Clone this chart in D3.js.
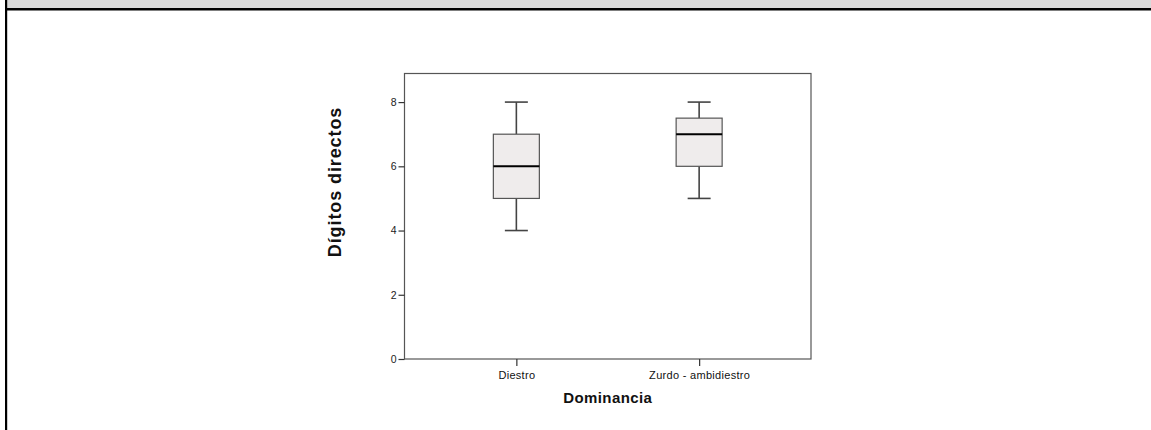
<!DOCTYPE html>
<html>
<head>
<meta charset="utf-8">
<script src="https://cdn.jsdelivr.net/npm/d3@7"></script>
<style>
	body { margin: 0; background: #fff; }
	svg { display: block; }
</style>
</head>
<body>
<div id="chart"></div>
<script>
// box plot values
var categories = ["Diestro", "Zurdo - ambidiestro"];
var minValues = [4, 5];
var q1Values = [5, 6];
var medianValues = [6, 7];
var q3Values = [7, 7.5];
var maxValues = [8, 8];
var yTicks = [0, 2, 4, 6, 8];

var width = 1151, height = 430;
var svg = d3.select("#chart").append("svg")
	.attr("width", width)
	.attr("height", height);

// page frame: grey strip on top, black rules
svg.append("rect").attr("x", 7).attr("y", 0).attr("width", width - 7).attr("height", 8).attr("fill", "#d9d9d9");
svg.append("rect").attr("x", 5).attr("y", 8).attr("width", width - 5).attr("height", 2.5).attr("fill", "#000");
svg.append("rect").attr("x", 5).attr("y", 0).attr("width", 2.2).attr("height", height).attr("fill", "#000");

var plot = { left: 404.5, right: 811, top: 73.5, bottom: 359 };

var y = d3.scaleLinear()
	.domain([0, 8.89])
	.range([plot.bottom, plot.top]);

var x = d3.scalePoint()
	.domain(categories)
	.range([plot.left, plot.right])
	.padding(0.612);

// plot frame
svg.append("rect")
	.attr("x", plot.left)
	.attr("y", plot.top)
	.attr("width", plot.right - plot.left)
	.attr("height", plot.bottom - plot.top)
	.attr("fill", "none")
	.attr("stroke", "#555")
	.attr("stroke-width", 1.2);

// y axis
var yAxis = svg.append("g")
	.attr("transform", "translate(" + plot.left + ",0)")
	.call(d3.axisLeft(y).tickValues(yTicks).tickSize(6).tickPadding(2).tickFormat(d3.format("d")));
yAxis.select(".domain").remove();
yAxis.selectAll("line").attr("stroke", "#333").attr("stroke-width", 1.2);
yAxis.selectAll("text")
	.attr("fill", "#222")
	.style("font-family", "Liberation Sans, Arial, sans-serif")
	.style("font-size", "10.5px");

// x axis
var xAxis = svg.append("g")
	.attr("transform", "translate(0," + plot.bottom + ")")
	.call(d3.axisBottom(x).tickSize(7).tickPadding(5));
xAxis.select(".domain").remove();
xAxis.selectAll("line").attr("stroke", "#333").attr("stroke-width", 1.2);
xAxis.selectAll("text")
	.attr("fill", "#111")
	.style("font-family", "Liberation Sans, Arial, sans-serif")
	.style("font-size", "11px")
	.style("letter-spacing", "0.3px");

// axis titles
svg.append("text")
	.text("Dominancia")
	.attr("x", x.range()[0] + (x.range()[1] - x.range()[0]) / 2)
	.attr("y", 403)
	.attr("text-anchor", "middle")
	.attr("fill", "#111")
	.style("font-family", "Liberation Sans, Arial, sans-serif")
	.style("font-weight", "bold")
	.style("font-size", "15px")
	.style("letter-spacing", "0.4px");

svg.append("text")
	.text("Dígitos directos")
	.attr("transform", "translate(341,182) rotate(-90)")
	.attr("text-anchor", "middle")
	.attr("fill", "#111")
	.style("font-family", "Liberation Sans, Arial, sans-serif")
	.style("font-weight", "bold")
	.style("font-size", "18px")
	.style("letter-spacing", "0.9px");

// boxes
var boxW = 46, capW = 23;
var rows = categories.map(function(c, i) {
	return { cat: c, min: minValues[i], q1: q1Values[i], med: medianValues[i], q3: q3Values[i], max: maxValues[i] };
});

var boxes = svg.selectAll(".box").data(rows).enter().append("g").attr("class", "box");

boxes.append("line")
	.attr("x1", function(d) { return x(d.cat); })
	.attr("x2", function(d) { return x(d.cat); })
	.attr("y1", function(d) { return y(d.max); })
	.attr("y2", function(d) { return y(d.q3); })
	.attr("stroke", "#444").attr("stroke-width", 1.6);
boxes.append("line")
	.attr("x1", function(d) { return x(d.cat); })
	.attr("x2", function(d) { return x(d.cat); })
	.attr("y1", function(d) { return y(d.q1); })
	.attr("y2", function(d) { return y(d.min); })
	.attr("stroke", "#444").attr("stroke-width", 1.6);
boxes.append("line")
	.attr("x1", function(d) { return x(d.cat) - capW / 2; })
	.attr("x2", function(d) { return x(d.cat) + capW / 2; })
	.attr("y1", function(d) { return y(d.max); })
	.attr("y2", function(d) { return y(d.max); })
	.attr("stroke", "#444").attr("stroke-width", 1.6);
boxes.append("line")
	.attr("x1", function(d) { return x(d.cat) - capW / 2; })
	.attr("x2", function(d) { return x(d.cat) + capW / 2; })
	.attr("y1", function(d) { return y(d.min); })
	.attr("y2", function(d) { return y(d.min); })
	.attr("stroke", "#444").attr("stroke-width", 1.6);
boxes.append("rect")
	.attr("x", function(d) { return x(d.cat) - boxW / 2; })
	.attr("y", function(d) { return y(d.q3); })
	.attr("width", boxW)
	.attr("height", function(d) { return y(d.q1) - y(d.q3); })
	.attr("fill", "#efecec")
	.attr("stroke", "#555")
	.attr("stroke-width", 1.2);
boxes.append("line")
	.attr("x1", function(d) { return x(d.cat) - boxW / 2; })
	.attr("x2", function(d) { return x(d.cat) + boxW / 2; })
	.attr("y1", function(d) { return y(d.med); })
	.attr("y2", function(d) { return y(d.med); })
	.attr("stroke", "#000").attr("stroke-width", 2);
</script>
</body>
</html>
